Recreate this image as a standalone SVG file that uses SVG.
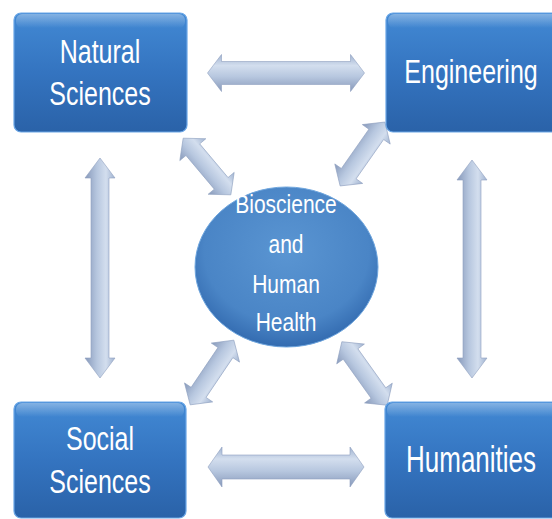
<svg xmlns="http://www.w3.org/2000/svg" width="552" height="519" viewBox="0 0 552 519">
<defs>
<linearGradient id="boxg" x1="0" y1="0" x2="0" y2="1">
<stop offset="0" stop-color="#4289d4"/>
<stop offset="0.5" stop-color="#3474c0"/>
<stop offset="1" stop-color="#2a62a8"/>
</linearGradient>
<linearGradient id="hl" x1="0" y1="0" x2="0" y2="1">
<stop offset="0" stop-color="#ffffff" stop-opacity="0.35"/>
<stop offset="1" stop-color="#ffffff" stop-opacity="0"/>
</linearGradient>
<radialGradient id="circg" cx="0.5" cy="0.4" r="0.6">
<stop offset="0" stop-color="#5a95d2"/>
<stop offset="0.75" stop-color="#4a85c6"/>
<stop offset="1" stop-color="#336bb0"/>
</radialGradient>
<linearGradient id="arrg" x1="0" y1="0" x2="0" y2="1">
<stop offset="0" stop-color="#9fb2d0"/>
<stop offset="0.3" stop-color="#d3deee"/>
<stop offset="0.6" stop-color="#b7c7df"/>
<stop offset="1" stop-color="#8799ba"/>
</linearGradient>
</defs>
<style>
.box{fill:url(#boxg);stroke:#6aa6e6;stroke-width:1.2}
.gloss{fill:url(#hl)}
.arr{fill:url(#arrg);stroke:#8ea0bf;stroke-width:0.6}
.t{font-family:"Liberation Sans",Arial,sans-serif;fill:#ffffff;text-anchor:middle}
.tb{font-size:25px}
.tc{font-size:21px}
</style>
<g id="connectors">
<path class="arr" transform="translate(286,73)" d="M-78.5,0 L-64.5,-18.5 L-64.5,-11.5 L64.5,-11.5 L64.5,-18.5 L78.5,0 L64.5,18.5 L64.5,11.5 L-64.5,11.5 L-64.5,18.5 Z"/>
<path class="arr" transform="translate(286,467)" d="M-78,0 L-64,-20 L-64,-12 L64,-12 L64,-20 L78,0 L64,20 L64,12 L-64,12 L-64,20 Z"/>
<path class="arr" transform="translate(100,268) rotate(90)" d="M-110,0 L-90,-15 L-90,-9 L90,-9 L90,-15 L110,0 L90,15 L90,9 L-90,9 L-90,15 Z"/>
<path class="arr" transform="translate(472,269) rotate(90)" d="M-109,0 L-89,-15 L-89,-9 L89,-9 L89,-15 L109,0 L89,15 L89,9 L-89,9 L-89,15 Z"/>
<path class="arr" transform="translate(207,166.5) rotate(49.9)" d="M-37,0 L-22,-17 L-22,-9 L22,-9 L22,-17 L37,0 L22,17 L22,9 L-22,9 L-22,17 Z"/>
<path class="arr" transform="translate(362.5,154) rotate(125)" d="M-39,0 L-24,-17 L-24,-9 L24,-9 L24,-17 L39,0 L24,17 L24,9 L-24,9 L-24,17 Z"/>
<path class="arr" transform="translate(212,372.5) rotate(124)" d="M-39,0 L-24,-17 L-24,-9 L24,-9 L24,-17 L39,0 L24,17 L24,9 L-24,9 L-24,17 Z"/>
<path class="arr" transform="translate(364.5,373.5) rotate(54.5)" d="M-39,0 L-24,-17 L-24,-9 L24,-9 L24,-17 L39,0 L24,17 L24,9 L-24,9 L-24,17 Z"/>
</g>
<g id="natural-sciences">
<rect class="box" x="14" y="13" width="173" height="119" rx="7"/>
<rect class="gloss" x="16" y="14" width="169" height="14" rx="6"/>
<text class="t tb" transform="translate(100,63) scale(1,1.3)">Natural</text>
<text class="t tb" transform="translate(100,105) scale(1,1.3)">Sciences</text>
</g>
<g id="engineering">
<rect class="box" x="386" y="13" width="180" height="119" rx="7"/>
<rect class="gloss" x="388" y="14" width="176" height="14" rx="6"/>
<text class="t tb" transform="translate(471,83) scale(1,1.3)">Engineering</text>
</g>
<g id="social-sciences">
<rect class="box" x="14" y="402" width="172" height="116" rx="7"/>
<rect class="gloss" x="16" y="403" width="168" height="14" rx="6"/>
<text class="t tb" transform="translate(100,450) scale(1,1.3)">Social</text>
<text class="t tb" transform="translate(100,493) scale(1,1.3)">Sciences</text>
</g>
<g id="humanities">
<rect class="box" x="385" y="402" width="180" height="116" rx="7"/>
<rect class="gloss" x="387" y="403" width="176" height="14" rx="6"/>
<text class="t" font-size="26" transform="translate(471,472) scale(1,1.42)">Humanities</text>
</g>
<g id="bioscience">
<ellipse cx="286.5" cy="267" rx="91.5" ry="80" fill="url(#circg)" stroke="#6fa6de" stroke-width="1"/>
<text class="t tc" transform="translate(286,213) scale(1,1.2)">Bioscience</text>
<text class="t tc" transform="translate(286,253) scale(1,1.2)">and</text>
<text class="t tc" transform="translate(286,293) scale(1,1.2)">Human</text>
<text class="t tc" transform="translate(286,331) scale(1,1.2)">Health</text>
</g>
</svg>
